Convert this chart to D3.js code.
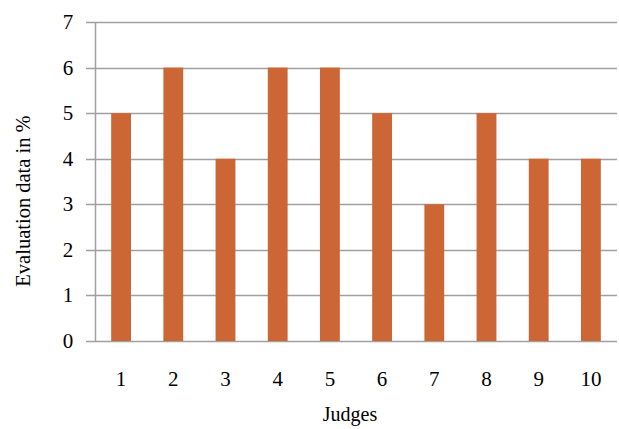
<!DOCTYPE html>
<html>
<head>
<meta charset="utf-8">
<script src="https://cdn.jsdelivr.net/npm/d3@7"></script>
<style>
  html, body { margin: 0; padding: 0; background: #fff; }
  svg { display: block; }
</style>
</head>
<body>
<svg id="chart" width="619" height="429"></svg>
<script>
// Evaluation share per judge
const judges = ["1", "2", "3", "4", "5", "6", "7", "8", "9", "10"];
const values = [5, 6, 4, 6, 6, 5, 3, 5, 4, 4];
const yTicks = [0, 1, 2, 3, 4, 5, 6, 7];

const FONT = "'Liberation Serif', 'Times New Roman', 'DejaVu Serif', serif";
const svg = d3.select("#chart")
  .attr("font-family", FONT);
const plot = { left: 95, right: 617, top: 22, bottom: 341 };

const x = d3.scaleBand()
  .domain(judges)
  .range([plot.left, plot.right])
  .paddingInner(0.62)
  .paddingOuter(0.31);

const y = d3.scaleLinear()
  .domain([0, 7])
  .range([plot.bottom, plot.top]);

// Horizontal gridlines with short ticks on the left
svg.append("g")
  .selectAll("line")
  .data(yTicks)
  .join("line")
  .attr("x1", plot.left - 9)
  .attr("x2", plot.right)
  .attr("y1", d => Math.round(y(d)) + 0.5)
  .attr("y2", d => Math.round(y(d)) + 0.5)
  .attr("stroke", "#a0a0a0")
  .attr("stroke-width", 1.5);

// Vertical axis line
svg.append("line")
  .attr("x1", plot.left + 0.5)
  .attr("x2", plot.left + 0.5)
  .attr("y1", plot.top)
  .attr("y2", plot.bottom)
  .attr("stroke", "#a0a0a0")
  .attr("stroke-width", 1.5);

// Bars
svg.append("g")
  .selectAll("rect")
  .data(values)
  .join("rect")
  .attr("x", (d, i) => x(judges[i]))
  .attr("width", x.bandwidth())
  .attr("y", d => y(d))
  .attr("height", d => y(0) - y(d))
  .attr("fill", "#cd6635");

// Y tick labels
svg.append("g")
  .selectAll("text")
  .data(yTicks)
  .join("text")
  .attr("x", 68)
  .attr("y", d => y(d))
  .attr("dy", "0.33em")
  .attr("text-anchor", "middle")
  .attr("font-family", FONT)
  .attr("font-size", 21)
  .attr("fill", "#000")
  .text(d => d);

// X tick labels
svg.append("g")
  .selectAll("text")
  .data(judges)
  .join("text")
  .attr("x", d => x(d) + x.bandwidth() / 2)
  .attr("y", 386)
  .attr("text-anchor", "middle")
  .attr("font-family", FONT)
  .attr("font-size", 21)
  .attr("fill", "#000")
  .text(d => d);

// Axis titles
svg.append("text")
  .attr("x", 350)
  .attr("y", 421)
  .attr("text-anchor", "middle")
  .attr("font-family", FONT)
  .attr("font-size", 20)
  .attr("fill", "#000")
  .text("Judges");

svg.append("text")
  .attr("transform", "translate(30,201) rotate(-90)")
  .attr("text-anchor", "middle")
  .attr("font-family", FONT)
  .attr("font-size", 20.5)
  .attr("fill", "#000")
  .text("Evaluation data in %");
</script>
</body>
</html>
